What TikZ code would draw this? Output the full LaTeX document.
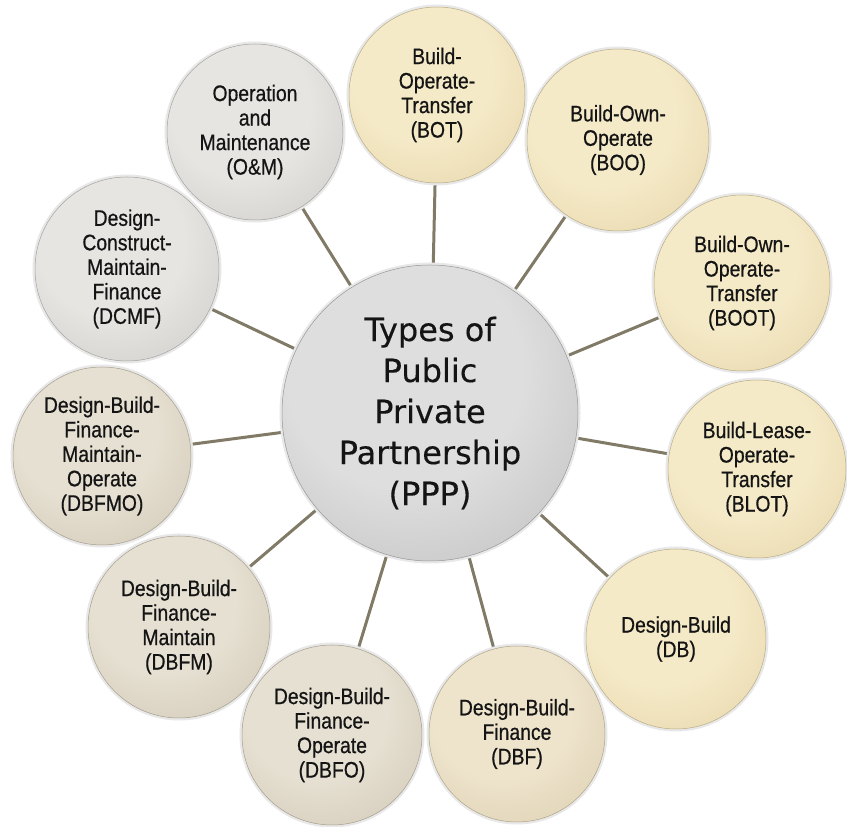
\documentclass[tikz,border=0pt]{standalone}
\usepackage{fontspec}
\setmainfont{Liberation Sans}
\newfontfamily\outerfont[FakeStretch=0.86,FakeBold=0.6]{Liberation Sans}
\newfontfamily\centerfont[FakeBold=0.3]{DejaVu Sans}
\usetikzlibrary{backgrounds}
\definecolor{connc}{RGB}{128,122,102}
\definecolor{textc}{RGB}{20,20,20}
\definecolor{grayin}{RGB}{230,229,226}
\definecolor{grayout}{RGB}{200,198,193}
\definecolor{midin}{RGB}{222,222,222}
\definecolor{midout}{RGB}{184,184,184}
\definecolor{creamin}{RGB}{245,234,200}
\definecolor{creamout}{RGB}{226,208,162}
\definecolor{tanin}{RGB}{238,228,204}
\definecolor{tanout}{RGB}{214,200,168}
\definecolor{taupein}{RGB}{230,224,210}
\definecolor{taupeout}{RGB}{203,193,173}
\colorlet{bubin}{grayin}
\colorlet{bubout}{grayout}
\pgfdeclareradialshading[bubin,bubout]{bubble}{\pgfpoint{-6bp}{10bp}}{color(0bp)=(bubin); color(20bp)=(bubin); color(46bp)=(bubout); color(60bp)=(bubout!86!black); color(72bp)=(bubout!86!black)}
\begin{document}
\begin{tikzpicture}[x=1pt,y=1pt,
  conn/.style={draw=connc, line width=3pt},
  bub/.style n args={3}{circle, inner sep=0pt, minimum size=#1,
    /utils/exec={\colorlet{bubin}{#2}\colorlet{bubout}{#3}},
    shading=bubble,
    preaction={draw=black!9, line width=5pt},
    draw=#3!82!black, line width=0.5pt,
    align=center, text=textc,
    font=\outerfont\fontsize{22.5}{24.5}\selectfont},
  graybub/.style={bub={#1}{grayin}{grayout}},
  creambub/.style={bub={#1}{creamin}{creamout}},
  tanbub/.style={bub={#1}{tanin}{tanout}},
  taupebub/.style={bub={#1}{taupein}{taupeout}},
]
\useasboundingbox (0,0) rectangle (847,827);

\node[bub={296pt}{midin}{midout}, font=\centerfont\fontsize{32}{41}\selectfont] (ppp) at (430,414)
  {Types of\\Public\\Private\\Partnership\\(PPP)};

\node[creambub=176pt] (bot) at (437,732) {Build-\\Operate-\\Transfer\\(BOT)};
\node[creambub=182pt] (boo) at (618,687) {Build-Own-\\Operate\\(BOO)};
\node[creambub=176pt] (boot) at (742,544) {Build-Own-\\Operate-\\Transfer\\(BOOT)};
\node[creambub=178pt] (blot) at (757,358) {Build-Lease-\\Operate-\\Transfer\\(BLOT)};
\node[creambub=180pt] (db) at (676,188) {Design-Build\\(DB)};
\node[tanbub=176pt] (dbf) at (517,93) {Design-Build-\\Finance\\(DBF)};
\node[taupebub=180pt] (dbfo) at (332,92) {Design-Build-\\Finance-\\Operate\\(DBFO)};
\node[taupebub=182pt] (dbfm) at (179,200) {Design-Build-\\Finance-\\Maintain\\(DBFM)};
\node[taupebub=178pt] (dbfmo) at (102,371) {Design-Build-\\Finance-\\Maintain-\\Operate\\(DBFMO)};
\node[graybub=184pt] (dcmf) at (127,558) {Design-\\Construct-\\Maintain-\\Finance\\(DCMF)};
\node[graybub=176pt] (om) at (255,695) {Operation\\and\\Maintenance\\(O\&M)};

\begin{scope}[on background layer]
\fill[white] (0,0) rectangle (847,827);
\foreach \n in {bot,boo,boot,blot,db,dbf,dbfo,dbfm,dbfmo,dcmf,om}
  \draw[conn] (ppp) -- (\n);
\end{scope}
\end{tikzpicture}
\end{document}
